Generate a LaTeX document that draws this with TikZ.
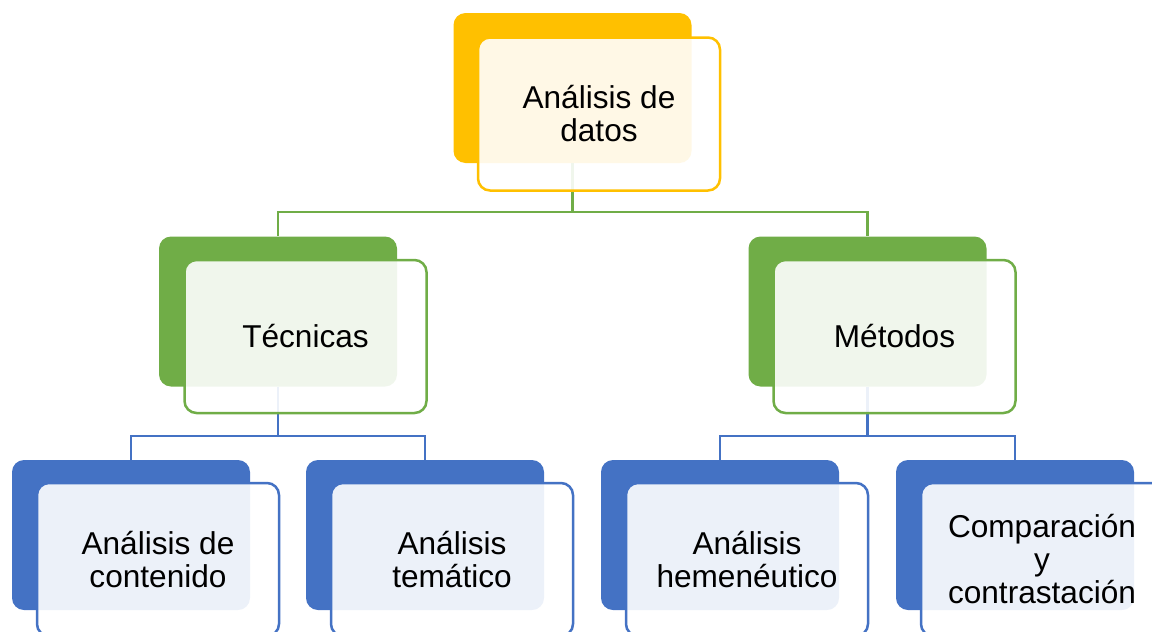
\documentclass[tikz,border=0pt]{standalone}
\usepackage{fontspec}
\setmainfont{Liberation Sans}
\definecolor{cy}{HTML}{FFC000}
\definecolor{cg}{HTML}{70AD47}
\definecolor{cb}{HTML}{4472C4}
\begin{document}
\begin{tikzpicture}[x=1pt,y=-1pt,
 back/.style={rounded corners=12pt, minimum width=238pt, minimum height=150pt, inner sep=0pt, fill=#1},
 front/.style={rounded corners=12pt, minimum width=242pt, minimum height=153pt, inner sep=0pt, draw=#1, line width=2.5pt, fill=white, fill opacity=0.9, text opacity=1, align=center, font=\fontsize{31.6}{33}\selectfont},
 conn/.style={draw=#1, line width=2.5pt}]
\clip (0,0) rectangle (1152,632);
% back boxes
\node[back=cy] (b0) at (572.5,88) {};
\node[back=cg] (b1) at (278,311.5) {};
\node[back=cg] (b2) at (867.5,311.5) {};
\node[back=cb] (b11) at (131,535) {};
\node[back=cb] (b12) at (425,535) {};
\node[back=cb] (b21) at (720,535) {};
\node[back=cb] (b22) at (1015,535) {};
% connectors
\coordinate (j0) at (572.5,212);
\coordinate (j1) at (278,436);
\coordinate (j2) at (867.5,436);
\draw[conn=cg] (b0.south) -- (j0) -| (b1.north);
\draw[conn=cg] (j0) -| (b2.north);
\draw[conn=cb] (b1.south) -- (j1) -| (b11.north);
\draw[conn=cb] (j1) -| (b12.north);
\draw[conn=cb] (b2.south) -- (j2) -| (b21.north);
\draw[conn=cb] (j2) -| (b22.north);
% front boxes
\node[front=cy] (f0) at (599,114) {Análisis de\\datos};
\node[front=cg] (f1) at (305.5,336.5) {Técnicas};
\node[front=cg] (f2) at (894.5,336.5) {Métodos};
\node[front=cb] (f11) at (158,559.5) {Análisis de\\contenido};
\node[front=cb] (f12) at (452,559.5) {Análisis\\temático};
\node[front=cb] (f21) at (747,559.5) {Análisis\\hemenéutico};
\node[front=cb] (f22) at (1042,559.5) {Comparación\\y\\contrastación};
\end{tikzpicture}
\end{document}
